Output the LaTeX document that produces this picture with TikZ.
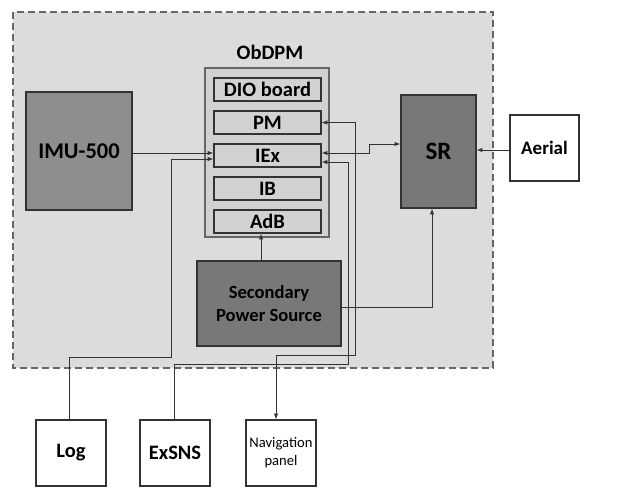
\documentclass[tikz,border=0pt]{standalone}
\usepackage{fontspec}
\setmainfont{Carlito}
\usetikzlibrary{calc,positioning}

\definecolor{panelgray}{HTML}{DCDCDC}
\definecolor{modgray}{HTML}{D2D2D2}
\definecolor{imugray}{HTML}{8E8E8E}
\definecolor{darkgray}{HTML}{787878}
\definecolor{linegray}{HTML}{333333}

\tikzset{
	block/.style={draw=linegray, line width=1.3pt, inner sep=0pt, align=center, font=\bfseries},
	module/.style={block, fill=modgray, minimum width=107, minimum height=23, font=\fontsize{20.5}{22}\bfseries},
	extbox/.style={block, fill=white, minimum width=70, minimum height=66, font=\fontsize{20.5}{22}\bfseries},
	wire/.style={draw=linegray, line width=1pt, -latex}
}

\begin{document}
\begin{tikzpicture}[x=1pt, y=-1pt]
	
		\useasboundingbox (0,0) rectangle (625,488);
		
		% onboard part
		\draw[dashed, dash pattern=on 7pt off 4pt, line width=1.2pt, draw=black!60, fill=panelgray]
			(13,12) rectangle (493,368);
		
		\node[font=\fontsize{20.5}{22}\bfseries] (obdpmlabel) at (270,52) {ObDPM};
		\node[block, fill=panelgray!95!black, draw=black!60, minimum width=124, minimum height=169] (obdpm) at (267,152.5) {};
		
		% modules of the ObDPM
		\foreach \name/\txt [count=\i from 0] in {dio/DIO board, pm/PM, iex/IEx, ib/IB, adb/AdB}
		{
			\node[module] (\name) at (267.5, 89.5 + \i * 33) {\txt};
		}
		
		\node[block, fill=imugray, minimum width=106, minimum height=118, font=\fontsize{22.5}{24}\bfseries] (imu) at (79,151) {IMU-500};
		\node[block, fill=darkgray, minimum width=75, minimum height=113, font=\fontsize{25}{26}\bfseries] (sr) at (438.5,151.5) {SR};
		\node[block, fill=white, minimum width=69, minimum height=66, font=\fontsize{19}{21}\bfseries] (aerial) at (544.5,148) {Aerial};
		\node[block, fill=darkgray, minimum width=144, minimum height=85, font=\fontsize{18.6}{23}\bfseries] (sps) at (269,303.5) {Secondary\\Power Source};
		
		% outer devices
		\node[extbox] (log) at (71,453) {Log};
		\node[extbox] (exsns) at (175,453) {ExSNS};
		\node[extbox, font=\fontsize{14.6}{18}\selectfont] (nav) at (281,453) {Navigation\\panel};
		
		% links
		\draw[wire] (imu.east |- 0,153) -- (iex.west |- 0,153);
		\draw[wire] ($(log.north)+(-2,0)$) |- (171,357) |- (iex.west |- 0,159);
		\draw[wire] ($(exsns.north)+(-1,0)$) |- (348,364) |- (iex.east |- 0,162);
		\draw[wire, latex-latex] (pm.east) -| (355,355) -| ($(nav.north)+(-5,0)$);
		\draw[wire, latex-latex] (iex.east |- 0,153) -| (369,144) -- (sr.west |- 0,144);
		\draw[wire] (aerial.west |- 0,150) -- (sr.east |- 0,150);
		\draw[wire] ($(sps.north)+(-8,0)$) -- ($(adb.south)+(-6.5,0)$);
		\draw[wire] (sps.east |- 0,307) -| (sr.south -| 432,0);
		
	\end{tikzpicture}
\end{document}
